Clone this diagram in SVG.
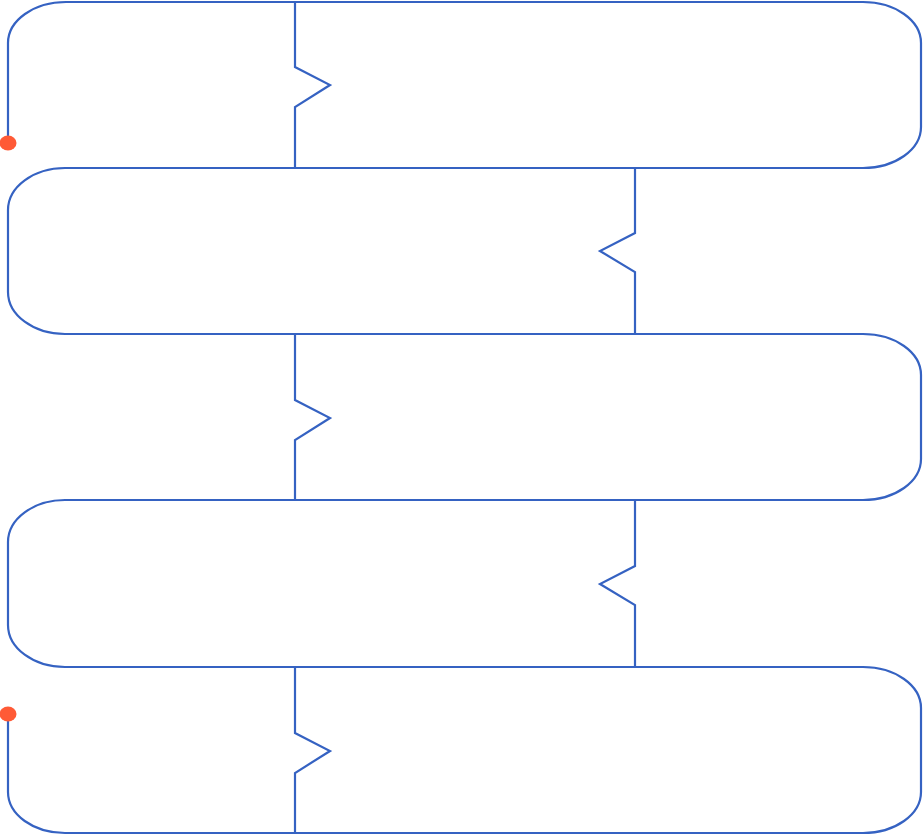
<svg xmlns="http://www.w3.org/2000/svg" width="923" height="836" viewBox="0 0 923 836">
<style>
.ln{fill:none;stroke:#3562C2;stroke-width:2.2;stroke-linejoin:miter}
.dot{fill:#FF5A36}
</style>
<rect width="923" height="836" fill="#fff"/>
<g id="connectors">
<path class="ln" d="M8,143 V43 A58,41 0 0 1 66,2 H863 A58,41 0 0 1 921,43 V127 A58,41 0 0 1 863,168 H65 A57,42 0 0 0 8,210 V292 A57,42 0 0 0 65,334 H863 A58,41 0 0 1 921,375 V459 A58,41 0 0 1 863,500 H65 A57,42 0 0 0 8,542 V625 A57,42 0 0 0 65,667 H863 A58,41 0 0 1 921,708 V792 A58,41 0 0 1 863,833 H65 A57,41 0 0 1 8,792 V714"/>
</g>
<g id="zig1"><path class="ln" d="M295,2 V67 L330,85 L295,107 V168"/></g>
<g id="zig2"><path class="ln" d="M635,168 V233 L600,251 L635,272 V334"/></g>
<g id="zig3"><path class="ln" d="M295,334 V400 L330,418 L295,440 V500"/></g>
<g id="zig4"><path class="ln" d="M635,500 V566 L600,584 L635,605 V667"/></g>
<g id="zig5"><path class="ln" d="M295,667 V733 L330,751 L295,773 V833"/></g>
<g id="start"><ellipse class="dot" cx="8" cy="143" rx="8.5" ry="7.5"/></g>
<g id="end"><ellipse class="dot" cx="8" cy="714" rx="8.5" ry="7.5"/></g>
</svg>
